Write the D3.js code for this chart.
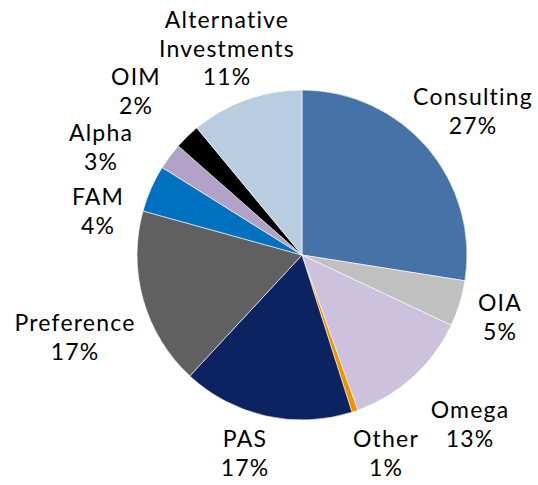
<!DOCTYPE html>
<html>
<head>
<meta charset="utf-8">
<script src="https://cdn.jsdelivr.net/npm/d3@7"></script>
<style>
  body { margin: 0; background: #fff; }
  text { font-family: Lato, "Open Sans", sans-serif; font-size: 23px; letter-spacing: 1.2px; fill: #000; }
</style>
</head>
<body>
<div id="viz"></div>
<script>
// slices clockwise from 12 o'clock
var categories = ["Consulting", "OIA", "Omega", "Other", "PAS", "Preference", "FAM", "Alpha", "OIM", "Alternative Investments"];
var values = [27.5, 4.5, 12.5, 0.6, 16.8, 17.4, 4.6, 2.6, 2.5, 11.0];
var pctLabels = ["27%", "5%", "13%", "1%", "17%", "17%", "4%", "3%", "2%", "11%"];
var colors = ["#4673a7", "#c0c0c0", "#ccc2dd", "#f39200", "#0b2461", "#606060", "#0070c0", "#b2a2c7", "#000000", "#b9cde0"];

// label anchor points (baseline of first line) and line breaks
var labelLines = [["Consulting"], ["OIA"], ["Omega"], ["Other"], ["PAS"], ["Preference"], ["FAM"], ["Alpha"], ["OIM"], ["Alternative", "Investments"]];
var labelPos = [[473, 105], [500, 311], [470, 418], [386, 447], [245, 447], [75, 331], [98, 205], [101, 141], [136, 85], [227, 28]];

var width = 538, height = 485;
var cx = 302, cy = 255, r = 165;

var svg = d3.select("#viz")
    .append("svg")
    .attr("width", width)
    .attr("height", height);

var pie = d3.pie().sort(null).value(function(d){ return d; });
var arc = d3.arc().innerRadius(0).outerRadius(r);

var g = svg.append("g").attr("transform", "translate(" + cx + "," + cy + ")");

g.selectAll("path")
    .data(pie(values))
    .enter()
    .append("path")
    .attr("d", arc)
    .attr("fill", function(d, i){ return colors[i]; })
    .attr("stroke", "#fff")
    .attr("stroke-width", 0.6);

var lh = 28.5;
var labels = svg.selectAll("text.lbl")
    .data(categories)
    .enter()
    .append("text")
    .attr("class", "lbl")
    .attr("text-anchor", "middle")
    .attr("transform", function(d, i){ return "translate(" + labelPos[i][0] + "," + labelPos[i][1] + ")"; });

labels.each(function(d, i){
    var t = d3.select(this);
    var lines = labelLines[i].concat([pctLabels[i]]);
    lines.forEach(function(s, j){
        t.append("tspan").attr("x", 0).attr("y", j * lh).text(s);
    });
});
</script>
</body>
</html>
